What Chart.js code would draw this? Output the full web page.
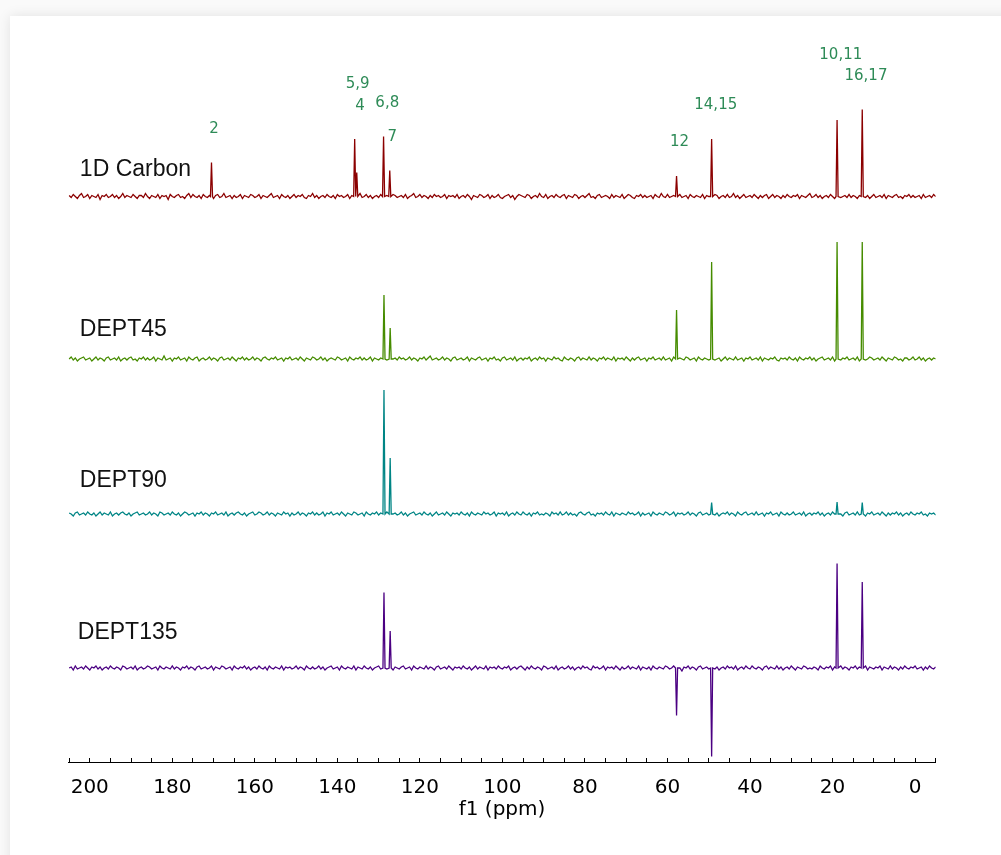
<!DOCTYPE html>
<html>
<head>
<meta charset="utf-8">
<script src="https://cdn.jsdelivr.net/npm/chart.js@4.4.0/dist/chart.umd.min.js"></script>
<style>
  html, body { margin: 0; padding: 0; background: #fafafa; overflow: hidden; }
  .card { position: absolute; left: 10px; top: 16px; width: 1010px; height: 860px; background: #fff; box-shadow: 0 0 12px rgba(0, 0, 0, 0.10); }
  #spectrum { position: absolute; left: 0; top: 0; }
</style>
</head>
<body>
<div class="card"></div>
<canvas id="spectrum" width="1001" height="855"></canvas>
<script>
const traceNames = ['1D Carbon', 'DEPT45', 'DEPT90', 'DEPT135'];
const traceColors = ['#8b0000', '#468c00', '#008585', '#4b0082'];

// peak shifts (ppm) and intensities for each experiment
const carbonShifts = [170.5, 135.8, 135.3, 128.8, 127.3, 57.8, 49.3, 18.9, 12.8];
const carbonHeights = [34, 57.5, 24, 60, 26, 20.5, 57.5, 76.5, 87];
const dept45Shifts = [128.7, 127.2, 57.8, 49.3, 18.9, 12.8];
const dept45Heights = [64, 31, 49, 97, 117, 117];
const dept90Shifts = [128.7, 127.2, 49.3, 18.9, 12.8];
const dept90Heights = [124, 56, 11.5, 12, 11.5];
const dept135Shifts = [128.7, 127.2, 57.8, 49.3, 18.9, 12.8];
const dept135Heights = [75.5, 37, -47.5, -88.5, 104.5, 86];

// baseline noise, one value every 0.5 ppm from 205 down to -5
const carbonNoise = [
  1,-1,2,0,-2,1,3,-1,0,2, -2,1,0,-1,2,-3,1,0,2,-1, 0,2,-1,1,-2,0,3,-1,1,0,
  -1,2,0,-2,1,1,-1,3,0,-2, 1,0,-1,2,-2,1,0,1,-3,2, 0,-1,1,2,-1,0,-2,1,3,-1,
  2,0,-1,1,-2,2,0,-1,1,0, -2,1,2,-1,0,3,-1,0,1,-2, 1,-1,0,2,-2,1,0,-1,2,1,
  -1,0,2,-2,1,0,-1,1,3,-1, 0,1,-2,2,0,-1,1,-2,0,2, -1,1,0,2,-1,-2,1,0,3,-1,
  1,-2,0,1,-1,2,0,-1,1,-2, 2,0,1,-1,0,2,-2,1,0,-1, 1,3,-1,0,2,-1,1,-2,0,1,
  -1,2,0,-1,1,0,-2,2,1,-1, 0,1,-1,2,-2,0,1,3,-1,0, 2,-1,1,0,-2,1,-1,2,0,1,
  -1,0,2,-2,1,0,1,-1,2,-2, 0,1,-1,2,0,-3,1,0,-1,2, 1,-1,0,2,-2,1,-1,0,2,-1,
  -2,0,1,2,-1,1,-3,0,2,1, 0,-1,2,1,-2,0,1,-1,3,0, -1,2,-2,0,1,-1,2,0,-1,1,
  2,-2,1,0,-1,2,1,-2,0,1, -1,1,3,-1,0,-2,1,2,-1,0, 1,0,-2,2,-1,1,0,-1,2,-2,
  0,2,1,-1,-2,1,0,2,-1,1, -1,0,1,-2,2,0,-1,3,0,-1, 2,-1,0,1,-2,1,2,-1,0,1,
  -2,2,0,-1,1,0,-1,2,-2,1, 0,1,-1,2,1,-2,0,1,-1,2, -1,0,3,-1,1,-2,0,2,-1,0,
  1,-1,2,0,-2,1,-1,1,2,-2, 0,2,-1,1,0,-2,1,-1,2,0, -1,1,0,2,-2,1,0,-1,1,3,
  -1,0,2,-1,1,-2,0,1,-1,2, 0,-2,1,2,-1,0,1,-1,2,-1, 1,0,-2,1,0,2,-1,1,-2,0,
  2,-1,0,1,-1,2,-2,1,0,-1, 1,2,-1,0,-2,1,0,2,-1,1, -1,0,1,-2,2,-1,0,1,-1,2, 0
];
const dept45Noise = [
  0,2,-1,1,-2,0,1,2,-1,0, 1,-2,0,2,-1,1,0,-2,1,2, -1,0,1,-1,2,-2,0,1,-1,1,
  2,-1,0,-2,1,0,2,-1,1,-1, 0,2,-2,1,0,-1,3,-1,0,1, -2,1,0,2,-1,0,1,-2,2,0,
  -1,1,2,-2,0,1,-1,0,2,-1, 1,0,-2,1,2,-1,0,1,-1,2, 0,-2,1,0,2,-1,1,-1,0,2,
  -1,1,0,-2,1,2,0,-1,1,0, 2,-1,0,1,-2,1,0,2,-1,0, 1,-1,2,0,-2,1,0,-1,2,1,
  -1,0,2,-1,1,-2,0,1,0,-1, 2,1,-1,0,1,-2,2,0,-1,1, 0,2,-1,1,-1,0,2,-2,1,0,
  -1,1,0,2,-1,1,-2,0,1,-1, 2,0,1,-1,0,2,-1,1,0,-2, 1,0,2,-1,1,3,-1,0,1,-1,
  0,2,-1,1,0,-2,1,2,-1,0, 1,-1,0,2,-2,1,0,-1,1,2, -1,0,1,-2,1,0,2,-1,0,-2,
  1,2,-1,0,1,-1,2,-2,0,1, -1,1,0,2,-2,0,1,-1,2,0, 1,-2,1,0,-1,2,0,1,-1,-2,
  2,0,-1,1,0,-2,1,2,-1,1, 0,-1,2,-1,1,0,-2,1,0,2, -1,1,0,-1,2,-2,1,0,1,-1,
  2,0,-2,1,-1,1,2,-1,0,1, -2,1,0,2,-1,0,1,-1,2,-1, 0,1,-2,2,0,-1,1,0,-1,2,
  1,-1,0,1,-2,2,0,-1,1,0, -1,2,1,-1,0,1,-2,0,2,-1, 1,0,-1,2,-1,0,1,-2,1,0,
  2,-1,0,1,-1,2,-2,1,0,-1, 1,0,2,-1,-2,1,0,1,-1,2, 0,-1,1,-2,2,0,-1,1,0,2,
  -1,1,-2,0,1,2,-1,0,1,-1, 2,-2,0,1,-1,1,0,2,-1,0, 1,-1,2,-2,0,1,-1,0,2,1,
  -1,0,1,-1,2,0,-2,1,0,-1, 2,1,-1,0,-2,1,1,-1,0,2, -1,0,2,-1,1,-2,0,1,-1,1, 0
];
const dept90Noise = [
  1,0,-2,1,2,-1,0,1,-1,2, 0,-1,1,-2,0,2,-1,1,0,-1, 2,-2,0,1,-1,1,2,0,-1,1,
  -2,0,1,2,-1,0,1,-1,0,2, -1,1,0,-2,2,1,-1,0,1,-1, 2,0,-1,1,-2,0,2,1,-1,0,
  1,-2,1,0,2,-1,1,0,-2,1, 0,2,-1,0,1,-1,2,-2,0,1, -1,1,2,0,-1,1,-2,0,1,2,
  -1,0,2,1,-1,0,2,-1,1,0, -2,1,0,-1,2,0,1,-2,1,-1, 0,2,-1,1,0,-2,1,0,2,-1,
  1,-1,0,2,-2,1,0,2,-1,0, 1,-1,2,0,-2,1,0,-1,2,1, -1,0,1,-2,2,0,-1,1,0,2,
  -1,1,0,-1,2,-2,1,0,1,-1, 0,2,-1,1,-2,0,1,2,-1,0, 1,-1,2,0,-1,1,-2,0,2,-1,
  0,1,-1,2,0,-2,1,0,1,-1, 2,0,-1,1,-2,2,0,-1,1,0, -1,2,0,1,-1,0,2,-2,1,0,
  1,-1,2,-2,0,1,-1,2,0,-1, 2,0,-1,1,-2,1,0,2,-1,0, -1,1,0,-2,2,0,1,-1,2,-1,
  0,2,-1,1,-1,0,-2,1,2,0, -1,1,2,-1,0,-2,1,0,1,-1, 2,0,-1,2,-2,1,0,-1,1,0,
  -1,2,0,1,-1,0,2,-2,1,-1, 0,1,-2,2,0,-1,1,0,-1,2, 1,-1,0,2,-2,1,0,1,-1,0,
  2,-1,1,0,-2,1,2,-1,0,1, -1,0,2,-1,1,-2,0,1,0,2, -1,1,0,-2,2,0,-1,1,2,-1,
  0,1,-1,2,-1,0,1,-2,1,0, 2,-1,0,1,-2,2,0,-1,1,-1, 0,2,-1,0,1,-1,2,-2,0,1,
  -1,1,0,2,-1,1,-2,0,1,-1, 2,0,-1,1,0,-2,1,2,-1,0, 1,-1,2,-1,0,1,-2,1,0,2,
  -1,0,1,-1,2,0,-2,1,-1,1, 0,2,-1,1,-2,0,1,-1,2,0, -1,1,0,2,-1,0,-2,1,0,1, -1
];
const dept135Noise = [
  0,1,-2,2,-1,0,1,-1,2,0, -2,1,0,2,-1,1,-2,0,1,-1, 2,0,-1,1,0,-2,2,1,-1,0,
  1,-1,2,-2,0,1,-1,0,2,1, -1,0,1,-2,2,0,-1,1,0,-1, 2,-1,1,0,-2,1,0,2,-1,1,
  0,-2,1,2,-1,0,1,-1,0,2, -2,1,0,-1,2,1,-1,0,1,-2, 2,0,-1,1,0,2,-1,1,-2,0,
  1,-1,2,0,-1,1,-2,2,0,-1, 1,0,-1,2,-2,1,0,1,-1,0, 2,-1,1,0,-2,2,0,-1,1,-1,
  0,2,-1,1,-2,0,1,2,-1,0, 1,-2,2,0,-1,1,0,-1,2,-2, 1,0,-1,2,0,-1,1,-2,0,1,
  2,-1,0,1,-1,2,0,-2,1,0, -1,1,2,-1,0,1,-2,2,0,-1, 1,0,-1,2,-1,1,0,-2,1,2,
  -1,0,1,-1,2,0,-2,1,0,1, -1,2,0,-1,1,-2,0,2,-1,1, 0,-1,2,-2,1,0,1,-1,2,0,
  -1,1,0,2,-2,0,1,-1,1,2, 0,-2,1,-1,2,0,-1,1,0,-2, 2,1,-1,0,1,-1,2,-2,0,1,
  -1,0,2,-1,1,-2,0,1,-1,2, 0,1,-1,-2,2,0,1,-1,0,2, -2,1,0,1,-1,2,0,-2,1,-1,
  0,2,-1,1,0,-1,2,-2,1,0, -1,1,-2,2,0,-1,1,0,-1,2, 1,-1,0,2,-2,1,0,-3,1,0,
  2,-1,1,0,-2,1,2,-1,0,1, -1,0,2,-1,1,-2,0,1,-1,2, 0,1,-1,2,-2,0,1,-1,2,0,
  -1,2,0,-1,1,0,-2,1,2,-1, 1,0,-1,2,-1,1,-2,0,1,-1, 2,0,-2,1,0,-1,2,1,-1,0,
  -1,1,0,-2,2,0,-1,1,0,2, -2,1,-1,0,2,-1,1,0,-2,1, 0,2,-1,1,-1,0,2,-2,1,0,
  -1,1,0,2,-2,1,0,-1,2,-1, 1,0,-2,1,-1,2,0,-1,1,0, 2,-1,0,1,-2,1,-1,2,0,-1, 1
];
const noiseStep = 0.5;

// vertical stacking of the four spectra
const traceOffsets = [565.5, 403, 248, 94];

const peakLabels = [
  { text: '2', ppm: 169.9, y: 633 },
  { text: '5,9', ppm: 135.1, y: 677.7 },
  { text: '4', ppm: 134.5, y: 656 },
  { text: '6,8', ppm: 127.9, y: 658.7 },
  { text: '7', ppm: 126.7, y: 624.7 },
  { text: '12', ppm: 57.1, y: 619.7 },
  { text: '14,15', ppm: 48.3, y: 657 },
  { text: '10,11', ppm: 18.0, y: 707 },
  { text: '16,17', ppm: 11.9, y: 686 }
];
const nameLabels = [
  { ppm: 202.4, y: 592 },
  { ppm: 202.4, y: 432 },
  { ppm: 202.4, y: 281 },
  { ppm: 202.9, y: 129 }
];

function buildTrace(shifts, heights, noise, offset) {
  const pts = [];
  noise.forEach((v, i) => {
    const ppm = 205 - i * noiseStep;
    if (shifts.some(s => Math.abs(s - ppm) < 0.45)) return;
    pts.push({ x: ppm, y: offset + v });
  });
  shifts.forEach((s, k) => {
    pts.push({ x: s + 0.25, y: offset }, { x: s, y: offset + heights[k] }, { x: s - 0.25, y: offset });
  });
  return pts.sort((a, b) => b.x - a.x);
}

const traces = [
  buildTrace(carbonShifts, carbonHeights, carbonNoise, traceOffsets[0]),
  buildTrace(dept45Shifts, dept45Heights, dept45Noise, traceOffsets[1]),
  buildTrace(dept90Shifts, dept90Heights, dept90Noise, traceOffsets[2]),
  buildTrace(dept135Shifts, dept135Heights, dept135Noise, traceOffsets[3])
];

const labelPlugin = {
  id: 'spectrumLabels',
  afterDatasetsDraw(chart) {
    const { ctx, scales } = chart;
    ctx.save();
    ctx.textBaseline = 'middle';
    ctx.fillStyle = '#2e8b57';
    ctx.font = '15px "DejaVu Sans"';
    ctx.textAlign = 'center';
    peakLabels.forEach(l => {
      ctx.fillText(l.text, scales.x.getPixelForValue(l.ppm), scales.y.getPixelForValue(l.y));
    });
    ctx.fillStyle = '#111';
    ctx.font = '23px "Liberation Sans"';
    ctx.textAlign = 'left';
    nameLabels.forEach((l, i) => {
      ctx.fillText(traceNames[i], scales.x.getPixelForValue(l.ppm), scales.y.getPixelForValue(l.y));
    });
    ctx.restore();
  }
};

new Chart(document.getElementById('spectrum'), {
  type: 'line',
  data: {
    datasets: traces.map((pts, i) => ({
      label: traceNames[i],
      data: pts,
      borderColor: traceColors[i],
      borderWidth: 1.3,
      pointRadius: 0,
      tension: 0,
      fill: false
    }))
  },
  options: {
    responsive: false,
    animation: false,
    layout: { padding: { left: 68.3, right: 65.3, top: 40, bottom: 33 } },
    plugins: { legend: { display: false }, tooltip: { enabled: false } },
    scales: {
      x: {
        type: 'linear',
        reverse: true,
        min: -5,
        max: 205.2,
        border: { display: true, color: '#000', width: 1 },
        grid: { drawOnChartArea: false, drawTicks: true, tickLength: -4, color: '#000', lineWidth: 1 },
        ticks: {
          stepSize: 5,
          autoSkip: false,
          maxRotation: 0,
          includeBounds: false,
          padding: 18,
          color: '#000',
          font: { family: 'DejaVu Sans', size: 20 },
          callback: v => (Math.round(v) % 20 === 0 ? String(Math.round(v)) : '')
        },
        title: { display: true, text: 'f1 (ppm)', color: '#000', padding: 0, font: { family: 'DejaVu Sans', size: 20 } },
        afterFit: s => { s.height = 60; }
      },
      y: { display: false, min: 0, max: 722 }
    }
  },
  plugins: [labelPlugin]
});
</script>
</body>
</html>
